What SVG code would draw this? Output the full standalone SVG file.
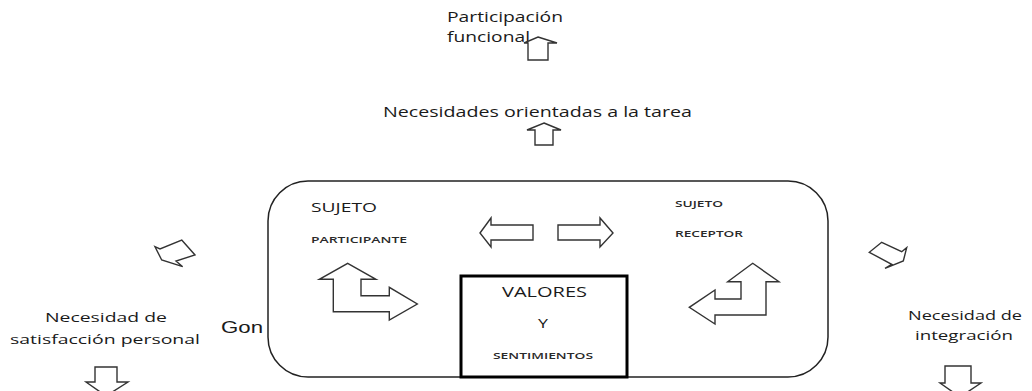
<svg xmlns="http://www.w3.org/2000/svg" width="1032" height="391" viewBox="0 0 1032 391">
<style>
  .t { font-family: "Open Sans", "Noto Sans", "DejaVu Sans", sans-serif; fill: #1a1a1a; }
  .s { font-weight: 600; fill: #2a2a2a; }
  .arr { fill: #ffffff; stroke: #333333; stroke-width: 1.4; stroke-linejoin: miter; }
  .frame { fill: #ffffff; stroke: #222222; stroke-width: 1.5; }
  .box { fill: #ffffff; stroke: #000000; stroke-width: 3; }
</style>
<rect width="1032" height="391" fill="#ffffff"/>

<g id="gon">
  <text class="t" x="221" y="333" font-size="16" style="font-family:'Liberation Sans', Arial, sans-serif" textLength="42" lengthAdjust="spacingAndGlyphs">Gon</text>
</g>

<g id="sujetos-frame">
  <rect class="frame" x="268" y="181" width="560" height="196" rx="40" ry="40"/>
  <text class="t" x="311" y="212" font-size="13" textLength="66" lengthAdjust="spacingAndGlyphs">SUJETO</text>
  <text class="t s" x="311" y="243" font-size="9.5" textLength="96" lengthAdjust="spacingAndGlyphs">PARTICIPANTE</text>
  <text class="t s" x="675" y="207" font-size="9" textLength="48" lengthAdjust="spacingAndGlyphs">SUJETO</text>
  <text class="t s" x="675" y="237" font-size="9" textLength="68" lengthAdjust="spacingAndGlyphs">RECEPTOR</text>
</g>

<g id="valores">
  <rect class="box" x="461" y="276" width="166" height="101"/>
  <text class="t" x="502" y="297" font-size="14" textLength="85" lengthAdjust="spacingAndGlyphs">VALORES</text>
  <text class="t" x="538" y="328" font-size="13" textLength="10" lengthAdjust="spacingAndGlyphs">Y</text>
  <text class="t s" x="493" y="359" font-size="9" textLength="100" lengthAdjust="spacingAndGlyphs">SENTIMIENTOS</text>
</g>

<g id="participacion">
  <text class="t" x="447" y="22" font-size="14" textLength="116" lengthAdjust="spacingAndGlyphs">Participación</text>
  <text class="t" x="447" y="42" font-size="14" textLength="83" lengthAdjust="spacingAndGlyphs">funcional</text>
</g>

<g id="necesidades-tarea">
  <text class="t" x="383" y="117" font-size="14" textLength="309" lengthAdjust="spacingAndGlyphs">Necesidades orientadas a la tarea</text>
</g>

<g id="necesidad-satisfaccion">
  <text class="t" x="45" y="322" font-size="13.5" textLength="122" lengthAdjust="spacingAndGlyphs">Necesidad de</text>
  <text class="t" x="10" y="344" font-size="13.5" textLength="190" lengthAdjust="spacingAndGlyphs">satisfacción personal</text>
</g>

<g id="necesidad-integracion">
  <text class="t" x="908" y="320" font-size="13.5" textLength="114" lengthAdjust="spacingAndGlyphs">Necesidad de</text>
  <text class="t" x="915" y="340" font-size="13.5" textLength="98" lengthAdjust="spacingAndGlyphs">integración</text>
</g>

<g id="connectors">
  <polygon class="arr" points="538,37 557,43 548,43 548,60 528,60 528,43 524,43"/>
  <polygon class="arr" points="544,123 561,130 553,130 553,145 535,145 535,130 527,130"/>
  <polygon class="arr" points="480,233 491,218 491,225 533,225 533,240 491,240 491,247"/>
  <polygon class="arr" points="613,233 600,218 600,225 558,225 558,240 600,240 600,247"/>
  <polygon class="arr" points="347.7,263.3 376,279.3 361,279.3 361,295.7 389.3,295.7 389.3,287.3 417.3,304 389.3,320 389.3,311.7 333.3,311.7 333.3,279.3 319.3,279.3"/>
  <polygon class="arr" points="752.7,263.3 779,281.7 766,281.7 766,315 715,315 715,324 689.3,307.3 715,290 715,299 741,299 741,281.7 727.7,281.7"/>
  <polygon class="arr" points="181.7,240 195,255 176,261 182.7,266.7 161.7,260 155,246.7 160,249"/>
  <polygon class="arr" points="881.7,242.3 901.7,251.7 906.7,247.7 903.3,261 885,268.3 891.7,264.3 869.3,252.3"/>
  <polygon class="arr" points="95,367 117,367 117,382 128,382 106,396 86,382 95,382"/>
  <polygon class="arr" points="945,366 971,366 971,383 981,383 960,397 940,383 945,383"/>
</g>
</svg>
